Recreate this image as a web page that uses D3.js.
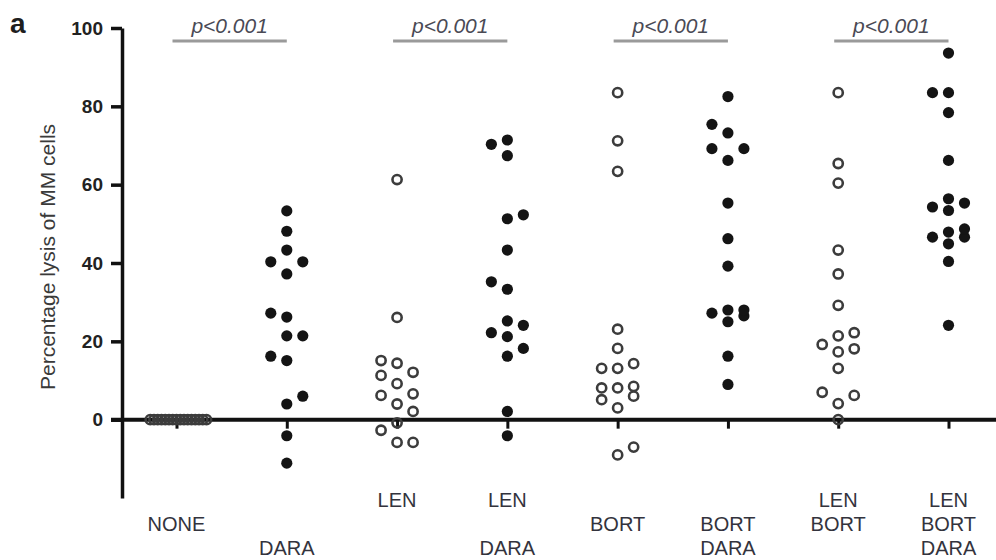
<!DOCTYPE html>
<html>
<head>
<meta charset="utf-8">
<script src="https://cdn.jsdelivr.net/npm/d3@7"></script>
<style>
  body { margin: 0; background: #fff; }
  svg { display: block; font-family: "Liberation Sans", Arial, Helvetica, sans-serif; }
</style>
</head>
<body>
<div id="chart"></div>
<script>
// groups along the x axis, left to right
const groups = ["NONE", "DARA", "LEN", "LEN DARA", "BORT", "BORT DARA", "LEN BORT", "LEN BORT DARA"];

// percentage lysis of MM cells, one value per donor
const none = [0, 0, 0, 0, 0, 0, 0, 0, 0, 0, 0, 0, 0, 0, 0, 0];
const dara = [53.3, 48.1, 43.3, 40.3, 40.3, 37.2, 27.2, 26.2, 21.4, 21.4, 16.2, 15.1, 6.0, 4.0, -4.1, -11.1];
const len = [61.3, 26.1, 15.1, 14.4, 12.1, 11.3, 9.2, 6.6, 6.2, 4.0, 2.1, -0.8, -2.7, -5.8, -5.8];
const lenDara = [71.4, 70.3, 67.4, 52.3, 51.3, 43.3, 35.2, 33.3, 25.2, 24.1, 22.2, 21.2, 18.2, 16.2, 2.1, -4.1];
const bort = [83.5, 71.2, 63.4, 23.1, 18.2, 14.3, 13.1, 13.1, 8.5, 8.1, 8.1, 6.0, 5.1, 3.0, -7.0, -9.0];
const bortDara = [82.5, 75.4, 73.2, 69.2, 69.2, 66.2, 55.3, 46.2, 39.2, 28.0, 28.0, 27.2, 26.5, 25.0, 16.2, 9.0];
const lenBort = [83.5, 65.4, 60.4, 43.3, 37.2, 29.2, 22.2, 21.4, 19.2, 18.1, 17.3, 13.1, 7.0, 6.2, 4.1, 0];
const lenBortDara = [93.6, 83.5, 83.5, 78.4, 66.2, 56.4, 55.3, 54.3, 53.4, 48.7, 47.9, 46.6, 46.6, 44.9, 40.4, 24.1];

const seriesValues = [none, dara, len, lenDara, bort, bortDara, lenBort, lenBortDara];

const yTicks = [0, 20, 40, 60, 80, 100];
const comparisons = [["NONE", "DARA"], ["LEN", "LEN DARA"], ["BORT", "BORT DARA"], ["LEN BORT", "LEN BORT DARA"]];
const pLabel = "p<0.001";
// which text row each drug name sits on under the axis
const labelRow = { LEN: 0, NONE: 1, BORT: 1, DARA: 2 };

(function () {
    const W = 996, H = 560;

    const svg = d3.select("#chart").append("svg")
        .attr("width", W)
        .attr("height", H)
        .style("background", "#fff");

    const axisX = 122;
    const y = d3.scaleLinear().domain([-20, 100]).range([498, 28]);
    const x = d3.scalePoint().domain(groups).range([176.5, 948.5]);

    // column scatter: ascending values, three columns 16px apart, sides alternate;
    // near-identical values spill outward and the row gets squeezed
    function swarm(vals, step, minGap, tightGap, maxHalf) {
        const pts = vals.map(v => ({ v, py: y(v), col: 0 }))
            .sort((a, b) => d3.ascending(a.v, b.v));
        const placed = [];
        let side = 1;
        pts.forEach(p => {
            const clear = c => d3.min(placed.filter(q => q.col === c), q => Math.abs(q.py - p.py)) ?? Infinity;
            const near = [0, side, -side];
            let col = near.find(c => clear(c) >= minGap);
            if (col === undefined) {
                const best = d3.greatest(near, c => clear(c));
                if (clear(best) >= tightGap) col = best;
            }
            if (col === undefined) {
                for (let k = 2; k < 50 && col === undefined; k++) {
                    if (clear(side * k) >= tightGap) col = side * k;
                    else if (clear(-side * k) >= tightGap) col = -side * k;
                }
            }
            if (col !== 0) side = -Math.sign(col);
            p.col = col;
            placed.push(p);
        });
        const ext = (d3.max(pts, p => Math.abs(p.col)) || 0) * step;
        const s = ext > maxHalf ? maxHalf / ext : 1;
        pts.forEach(p => { p.dx = p.col * step * s; });
        return pts;
    }

    // panel letter
    svg.append("text")
        .attr("x", 10)
        .attr("y", 33)
        .attr("font-size", 28)
        .attr("font-weight", "bold")
        .attr("fill", "#1e1e1e")
        .text("a");

    // y axis
    const yAxisG = svg.append("g")
        .attr("transform", `translate(${axisX},0)`)
        .call(d3.axisLeft(y).tickValues(yTicks).tickSize(11).tickSizeOuter(0).tickPadding(8));
    yAxisG.select(".domain").attr("stroke", "#111").attr("stroke-width", 3.5);
    yAxisG.selectAll(".tick line").attr("stroke", "#111").attr("stroke-width", 3.5);
    yAxisG.selectAll(".tick text")
        .attr("font-size", 19)
        .attr("font-weight", "bold")
        .attr("font-family", "'Liberation Sans', Arial, sans-serif")
        .attr("fill", "#222");

    svg.append("text")
        .attr("transform", "translate(55,257) rotate(-90)")
        .attr("text-anchor", "middle")
        .attr("font-size", 21)
        .attr("fill", "#3a3a3a")
        .text("Percentage lysis of MM cells");

    // x axis on the zero line
    const xAxisG = svg.append("g")
        .attr("transform", `translate(0,${y(0)})`)
        .call(d3.axisBottom(x).tickSize(9).tickSizeOuter(0).tickFormat(""));
    xAxisG.select(".domain").remove();
    xAxisG.selectAll(".tick line").attr("stroke", "#111").attr("stroke-width", 3);

    svg.append("line")
        .attr("x1", axisX - 11)
        .attr("x2", W)
        .attr("y1", y(0))
        .attr("y2", y(0))
        .attr("stroke", "#111")
        .attr("stroke-width", 4);

    // stacked drug names under each group
    const rowY = [507, 531, 555];
    const labels = svg.append("g").attr("class", "x-labels");
    groups.forEach(g => {
        g.split(" ").forEach(word => {
            labels.append("text")
                .attr("x", x(g))
                .attr("y", rowY[labelRow[word]])
                .attr("text-anchor", "middle")
                .attr("font-size", 20)
                .attr("fill", "#33333d")
                .text(word);
        });
    });

    // significance bars
    const sig = svg.append("g").attr("class", "sig");
    comparisons.forEach(([a, b]) => {
        sig.append("line")
            .attr("x1", x(a) - 4)
            .attr("x2", x(b))
            .attr("y1", 41)
            .attr("y2", 41)
            .attr("stroke", "#9a9a9a")
            .attr("stroke-width", 3);
        sig.append("text")
            .attr("x", (x(a) + x(b)) / 2 - 2)
            .attr("y", 33)
            .attr("text-anchor", "middle")
            .attr("font-size", 21)
            .attr("font-style", "italic")
            .attr("fill", "#4a4a55")
            .text(pLabel);
    });

    // points
    const pointsG = svg.append("g").attr("class", "points");
    groups.forEach((g, i) => {
        const filled = g.includes("DARA");
        const pts = swarm(seriesValues[i], 16, 13, 5, 30);
        pointsG.selectAll(null)
            .data(pts)
            .enter()
            .append("circle")
            .attr("cx", d => x(g) + d.dx)
            .attr("cy", d => d.py)
            .attr("r", filled ? 5.6 : 4.6)
            .attr("fill", filled ? "#141414" : "none")
            .attr("stroke", filled ? "none" : "#3c3c3c")
            .attr("stroke-width", filled ? 0 : 2.6);
    });
})();
</script>
</body>
</html>
